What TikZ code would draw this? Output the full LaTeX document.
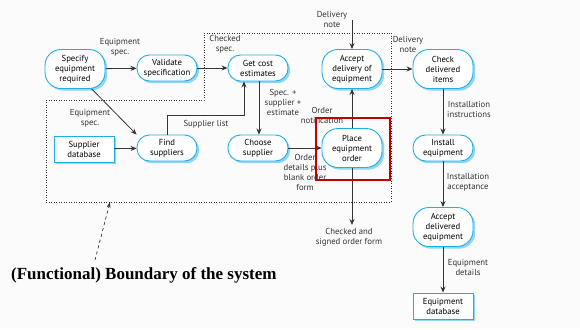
\documentclass[tikz,border=0pt]{standalone}
\usepackage{fontspec}
\setmainfont{PT Sans}
\newfontfamily\boundfont{Liberation Serif}
\usetikzlibrary{arrows.meta,shadows}
\definecolor{nodeblue}{HTML}{1FAEE6}
\definecolor{shadowblue}{HTML}{8FD6F2}
\definecolor{arrowgray}{HTML}{333333}
\definecolor{redbox}{HTML}{C00000}
\tikzset{
  proc/.style={draw=nodeblue, line width=0.9pt, fill=white, rounded corners=#1,
    minimum width=60pt, align=center, font=\fontsize{8.7}{10}\selectfont, inner sep=1pt,
    drop shadow={shadow xshift=2.2pt, shadow yshift=-2.2pt, fill=shadowblue, opacity=1}},
  tallproc/.style={proc=16pt, minimum height=39pt},
  shortproc/.style={proc=12.5pt, minimum height=26pt},
  store/.style={draw=nodeblue, line width=0.9pt, fill=white, minimum width=60pt, minimum height=26pt,
    align=center, font=\fontsize{8.7}{10}\selectfont, inner sep=1pt,
    drop shadow={shadow xshift=2.2pt, shadow yshift=-2.2pt, fill=shadowblue, opacity=1}},
  flow/.style={draw=arrowgray, line width=0.8pt, -{Stealth[length=6pt,width=5pt]}},
  lbl/.style={align=center, font=\fontsize{8.7}{10}\selectfont, text=arrowgray, inner sep=0pt},
  boundary/.style={draw=arrowgray, line width=0.9pt, dash pattern=on 0.9pt off 1.6pt},
}
\begin{document}
\begin{tikzpicture}[x=1pt,y=-1pt]
\fill[white!97!gray] (0,0) rectangle (580,329);
\useasboundingbox (0,0) rectangle (580,329);
% boundary
\draw[boundary] (46,100) -- (204,100) -- (204,33) -- (391,33) -- (391,202) -- (46,202) -- cycle;
% nodes
\node[tallproc] (spec) at (75,69) {Specify\\equipment\\required};
\node[shortproc] (valid) at (167,68) {Validate\\specification};
\node[shortproc] (cost) at (258,68) {Get cost\\estimates};
\node[store] (supdb) at (84,149) {Supplier\\database};
\node[shortproc] (find) at (167,148) {Find\\suppliers};
\node[shortproc] (choose) at (258,148) {Choose\\supplier};
\node[tallproc] (acceptdel) at (352,69) {Accept\\delivery of\\equipment};
\node[tallproc] (check) at (443,69) {Check\\delivered\\items};
\node[tallproc] (place) at (352,148) {Place\\equipment\\order};
\node[shortproc] (install) at (443,148) {Install\\equipment};
\node[tallproc] (acceptequip) at (443,227) {Accept\\delivered\\equipment};
\node[store] (eqdb) at (443,306) {Equipment\\database};
% free ends
\coordinate (dntop) at (352,20);
\coordinate (signed) at (352,225);
\coordinate (bstart) at (95,260);
\coordinate (bend) at (110,202);
% connectors
\draw[flow] (spec) -- (valid);
\draw[flow] (valid) -- (cost);
\draw[flow] (spec.-50) -- (find.north west);
\draw[flow] (supdb) -- (find);
\draw[flow] (find.north) |- (244,115) -- (cost.south -| 244,0);
\draw[flow] (cost.south -| 259,0) -- (choose.north -| 259,0);
\draw[flow] (choose) -- (place);
\draw[flow] (place) -- (acceptdel);
\draw[flow] (dntop) -- (acceptdel);
\draw[flow] (acceptdel) -- (check);
\draw[flow] (check) -- (install);
\draw[flow] (install) -- (acceptequip);
\draw[flow] (acceptequip) -- (eqdb);
\draw[flow] (place) -- (signed);
\draw[draw=arrowgray, line width=0.7pt, dashed, -{Stealth[length=6pt,width=4pt,open]}] (bstart) -- (bend);
% labels
\node[lbl] (l1) at (120,47) {Equipment\\spec.};
\node[lbl] (l2) at (225,44) {Checked\\spec.};
\node[lbl] (l3) at (90,118) {Equipment\\spec.};
\node[lbl] (l4) at (206,124) {Supplier list};
\node[lbl] (l5) at (283,102) {Spec. +\\supplier +\\estimate};
\node[lbl] (l6) at (305,172) {Order\\details plus\\blank order\\form};
\node[lbl] (l7) at (322,115) {Order\\notification};
\node[lbl] (l8) at (332,19) {Delivery\\note};
\node[lbl] (l9) at (408,44) {Delivery\\note};
\node[lbl] (l10) at (469,109) {Installation\\instructions};
\node[lbl] (l11) at (468,182) {Installation\\acceptance};
\node[lbl] (l12) at (468,267) {Equipment\\details};
\node[lbl] (l13) at (349,237) {Checked and\\signed order form};
\node[anchor=west, inner sep=0pt, font=\boundfont\bfseries\fontsize{17}{19}\selectfont] (btext) at (11,275) {(Functional) Boundary of the system};
% red highlight (drawn over the labels, as in the reference)
\draw[redbox, line width=2.2pt] (316,118) rectangle (390,180);
\end{tikzpicture}
\end{document}
